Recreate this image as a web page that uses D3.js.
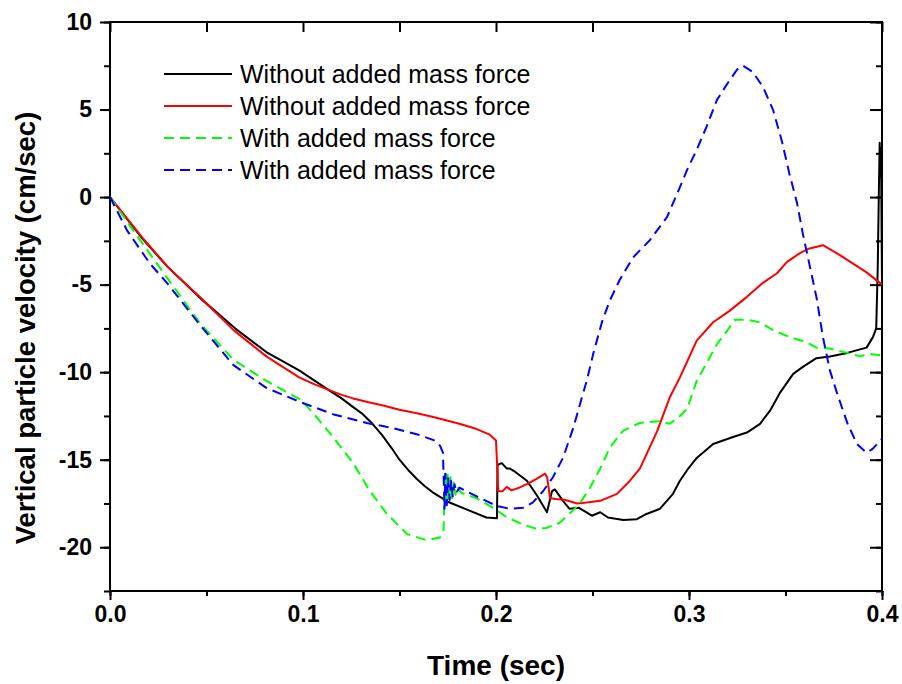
<!DOCTYPE html>
<html>
<head>
<meta charset="utf-8">
<script src="https://cdn.jsdelivr.net/npm/d3@7"></script>
<style>
  html, body { margin: 0; padding: 0; background: #fff; }
  svg { display: block; }
  .tick text { font-family: "Liberation Sans", Arial, sans-serif; font-weight: bold; font-size: 23px; fill: #000; }
  .axis-title { font-family: "Liberation Sans", Arial, sans-serif; font-weight: bold; fill: #000; }
  .legend text { font-family: "Liberation Sans", Arial, sans-serif; font-size: 25px; fill: #000; }
</style>
</head>
<body>
<svg id="chart" width="902" height="684"></svg>
<script>
// Vertical particle velocity vs time, four model runs
const xTicks = [0, 0.1, 0.2, 0.3, 0.4];
const yTicks = [-20, -15, -10, -5, 0, 5, 10];
const seriesLabels = [
  "Without added mass force",
  "Without added mass force",
  "With added mass force",
  "With added mass force"
];

// [time (sec), velocity (cm/sec)]
const blackRun = [
  [0,0],[0.017,-2.4],[0.03,-4.0],[0.047,-5.8],[0.066,-7.6],[0.081,-8.85],[0.098,-9.9],
  [0.113,-11.0],[0.12,-11.5],[0.126,-12.0],[0.131,-12.4],[0.136,-12.95],[0.141,-13.6],
  [0.146,-14.35],[0.150,-15.0],[0.155,-15.65],[0.159,-16.1],[0.163,-16.5],
  [0.167,-16.85],[0.175,-17.4],[0.185,-17.85],[0.195,-18.3],[0.2005,-18.35],[0.2008,-15.3],
  [0.203,-15.2],[0.2055,-15.5],[0.207,-15.5],[0.210,-15.7],[0.216,-16.2],[0.221,-17.0],
  [0.2264,-18.0],[0.229,-16.8],[0.2305,-16.7],[0.2347,-17.35],[0.238,-17.8],[0.243,-17.75],
  [0.2497,-18.2],[0.254,-18.0],[0.258,-18.3],[0.266,-18.45],[0.273,-18.4],[0.278,-18.1],
  [0.285,-17.8],[0.2917,-16.95],[0.2953,-16.2],[0.299,-15.6],[0.304,-14.9],[0.3125,-14.1],
  [0.3228,-13.7],[0.33,-13.45],[0.3368,-12.95],[0.342,-12.2],[0.347,-11.2],[0.354,-10.1],
  [0.359,-9.7],[0.366,-9.2],[0.373,-9.1],[0.382,-8.9],[0.3886,-8.7],[0.392,-8.6],
  [0.3953,-8.0],[0.397,-7.5],[0.3978,-4.0],[0.3984,0.5],[0.3988,3.1],[0.3991,1.2],
  [0.3994,2.8],[0.3996,1.0],[0.3998,-2.0],[0.4,-5.0]
];

const redRun = [
  [0,0],[0.017,-2.35],[0.03,-4.0],[0.047,-5.75],[0.064,-7.6],[0.081,-9.1],[0.098,-10.3],
  [0.106,-10.7],[0.113,-11.0],[0.12,-11.3],[0.126,-11.5],[0.134,-11.72],[0.1415,-11.9],
  [0.150,-12.15],[0.159,-12.35],[0.167,-12.55],[0.174,-12.75],[0.181,-12.95],[0.190,-13.25],
  [0.1965,-13.55],[0.2,-13.9],[0.2012,-16.8],[0.2035,-16.8],
  [0.2055,-16.55],[0.208,-16.75],[0.212,-16.6],[0.216,-16.4],[0.221,-16.1],[0.2254,-15.8],
  [0.2265,-16.0],[0.228,-17.2],[0.231,-17.25],[0.236,-17.3],[0.242,-17.5],[0.247,-17.45],
  [0.254,-17.35],[0.2627,-16.95],[0.2694,-16.2],[0.2746,-15.5],[0.2834,-13.4],[0.29,-11.45],
  [0.2953,-10.3],[0.304,-8.2],[0.3125,-7.15],[0.321,-6.5],[0.33,-5.7],[0.3383,-4.9],
  [0.3456,-4.35],[0.3508,-3.7],[0.3575,-3.2],[0.362,-2.95],[0.3694,-2.75],[0.378,-3.3],
  [0.385,-3.8],[0.392,-4.3],[0.4,-5.0]
];

const greenRun = [
  [0,0],[0.012,-1.9],[0.0295,-4.6],[0.0466,-7.2],[0.064,-9.3],[0.081,-10.5],[0.0984,-11.55],
  [0.105,-12.3],[0.1155,-13.7],[0.126,-15.2],[0.1347,-16.8],[0.1435,-18.1],[0.154,-19.25],
  [0.164,-19.6],[0.171,-19.45],[0.1728,-19.1],[0.1732,-17.5],[0.1736,-15.6],[0.1742,-17.6],
  [0.1749,-15.8],[0.1756,-17.4],[0.1764,-16.0],[0.1772,-17.2],[0.178,-16.3],[0.179,-17.0],
  [0.18,-16.5],[0.182,-16.9],[0.19,-17.2],[0.1985,-17.75],[0.2057,-18.3],[0.214,-18.7],
  [0.221,-18.95],[0.226,-18.9],[0.233,-18.6],[0.238,-18.1],[0.2435,-17.5],[0.2487,-16.6],
  [0.254,-15.5],[0.259,-14.3],[0.2658,-13.35],[0.2746,-12.9],[0.285,-12.8],[0.29,-12.95],
  [0.2953,-12.5],[0.299,-12.1],[0.304,-10.5],[0.309,-9.5],[0.3145,-8.4],[0.32,-7.6],
  [0.3238,-7.0],[0.33,-7.0],[0.3368,-7.15],[0.3435,-7.6],[0.3523,-8.0],[0.361,-8.3],
  [0.366,-8.6],[0.373,-8.65],[0.382,-8.9],[0.3886,-9.1],[0.393,-8.95],[0.4,-9.05]
];

const blueRun = [
  [0,0],[0.0088,-1.9],[0.0207,-3.8],[0.0295,-4.9],[0.0466,-7.3],[0.064,-9.6],[0.081,-10.9],
  [0.0984,-11.7],[0.1155,-12.4],[0.133,-12.9],[0.1466,-13.2],[0.1606,-13.6],[0.168,-13.9],
  [0.171,-14.2],[0.1725,-14.6],[0.173,-16.5],[0.1733,-17.8],[0.1738,-15.8],[0.1745,-17.6],
  [0.1752,-16.0],[0.176,-17.3],[0.1768,-16.2],[0.1776,-17.1],[0.1785,-16.4],[0.1795,-16.9],
  [0.181,-16.6],[0.19,-17.1],[0.2005,-17.65],[0.207,-17.8],[0.214,-17.75],[0.219,-17.45],
  [0.2244,-16.8],[0.2295,-16.0],[0.2347,-14.9],[0.24,-13.2],[0.2445,-11.45],[0.247,-10.5],
  [0.2505,-8.9],[0.255,-7.1],[0.259,-5.9],[0.264,-4.75],[0.271,-3.45],[0.2798,-2.45],
  [0.2886,-1.15],[0.2953,0.57],[0.299,1.55],[0.304,2.7],[0.309,4.0],[0.3145,5.55],
  [0.32,6.5],[0.325,7.3],[0.328,7.5],[0.333,7.15],[0.3383,6.3],[0.3435,5.0],[0.348,3.25],
  [0.352,1.35],[0.356,-0.35],[0.359,-2.1],[0.3627,-4.0],[0.366,-5.7],[0.3694,-8.0],
  [0.373,-9.9],[0.3767,-11.2],[0.382,-12.9],[0.387,-14.1],[0.392,-14.6],[0.395,-14.4],
  [0.4,-13.8]
];

const series = [
  { name: seriesLabels[0], data: blackRun, color: "#000000", dash: null },
  { name: seriesLabels[1], data: redRun,   color: "#ff0000", dash: null },
  { name: seriesLabels[2], data: greenRun, color: "#00ff00", dash: "10,6" },
  { name: seriesLabels[3], data: blueRun,  color: "#0000ff", dash: "10,6" }
];

const svg = d3.select("#chart");
const plot = { left: 110, right: 882, top: 22, bottom: 591 };

const x = d3.scaleLinear().domain([0, 0.4]).range([plot.left, plot.right]);
const y = d3.scaleLinear().domain([-22.5, 10]).range([plot.bottom, plot.top]);

const minorX = d3.range(0, 0.4001, 0.05);
const minorY = d3.range(-22.5, 10.001, 2.5);

// Minor ticks (outward on bottom/left, inward on top/right)
function minorAxis(axisFn, scale, vals, size, transform) {
  const g = svg.append("g").attr("transform", transform)
    .call(axisFn(scale).tickValues(vals).tickSize(size).tickFormat(""));
  g.select(".domain").remove();
  g.selectAll(".tick line").attr("stroke", "#000").attr("stroke-width", 2);
  return g;
}
minorAxis(d3.axisBottom, x, minorX, 5, `translate(0,${plot.bottom})`);
minorAxis(d3.axisLeft, y, minorY, 6, `translate(${plot.left},0)`);
minorAxis(d3.axisTop, x, minorX, -10, `translate(0,${plot.top})`);
minorAxis(d3.axisRight, y, minorY, -6, `translate(${plot.right},0)`);

// Major ticks with labels
const gx = svg.append("g").attr("transform", `translate(0,${plot.bottom})`)
  .call(d3.axisBottom(x).tickValues(xTicks).tickSize(9).tickPadding(6).tickFormat(d3.format(".1f")));
const gy = svg.append("g").attr("transform", `translate(${plot.left},0)`)
  .call(d3.axisLeft(y).tickValues(yTicks).tickSize(10).tickPadding(8));
const gyr = svg.append("g").attr("transform", `translate(${plot.right},0)`)
  .call(d3.axisRight(y).tickValues(yTicks).tickSize(-12).tickFormat(""));
[gx, gy, gyr].forEach(g => {
  g.select(".domain").remove();
  g.selectAll(".tick line").attr("stroke", "#000").attr("stroke-width", 2);
});
gy.selectAll(".tick text").text(d => String(d));

// Frame
svg.append("rect")
  .attr("x", plot.left).attr("y", plot.top)
  .attr("width", plot.right - plot.left).attr("height", plot.bottom - plot.top)
  .attr("fill", "none").attr("stroke", "#000").attr("stroke-width", 2);

// Data lines
svg.append("clipPath").attr("id", "plotClip").append("rect")
  .attr("x", plot.left).attr("y", plot.top)
  .attr("width", plot.right - plot.left).attr("height", plot.bottom - plot.top);

const line = d3.line().x(d => x(d[0])).y(d => y(d[1]));
const lines = svg.append("g").attr("clip-path", "url(#plotClip)");
series.forEach(s => {
  lines.append("path")
    .datum(s.data)
    .attr("d", line)
    .attr("fill", "none")
    .attr("stroke", s.color)
    .attr("stroke-width", 2)
    .attr("stroke-linejoin", "round")
    .attr("stroke-dasharray", s.dash);
});

// Legend
const legend = svg.append("g").attr("class", "legend");
const legendRows = [74, 106, 138, 170];
series.forEach((s, i) => {
  legend.append("line")
    .attr("x1", 164).attr("x2", 232)
    .attr("y1", legendRows[i]).attr("y2", legendRows[i])
    .attr("stroke", s.color).attr("stroke-width", 2)
    .attr("stroke-dasharray", s.dash);
  legend.append("text")
    .attr("x", 240).attr("y", legendRows[i] + 9)
    .text(s.name);
});

// Axis titles
svg.append("text").attr("class", "axis-title")
  .attr("x", (plot.left + plot.right) / 2).attr("y", 675)
  .attr("text-anchor", "middle")
  .style("font-size", "28px")
  .text("Time (sec)");
svg.append("text").attr("class", "axis-title")
  .attr("transform", `translate(35,328) rotate(-90)`)
  .attr("text-anchor", "middle")
  .style("font-size", "27.5px")
  .text("Vertical particle velocity (cm/sec)");
</script>
</body>
</html>
